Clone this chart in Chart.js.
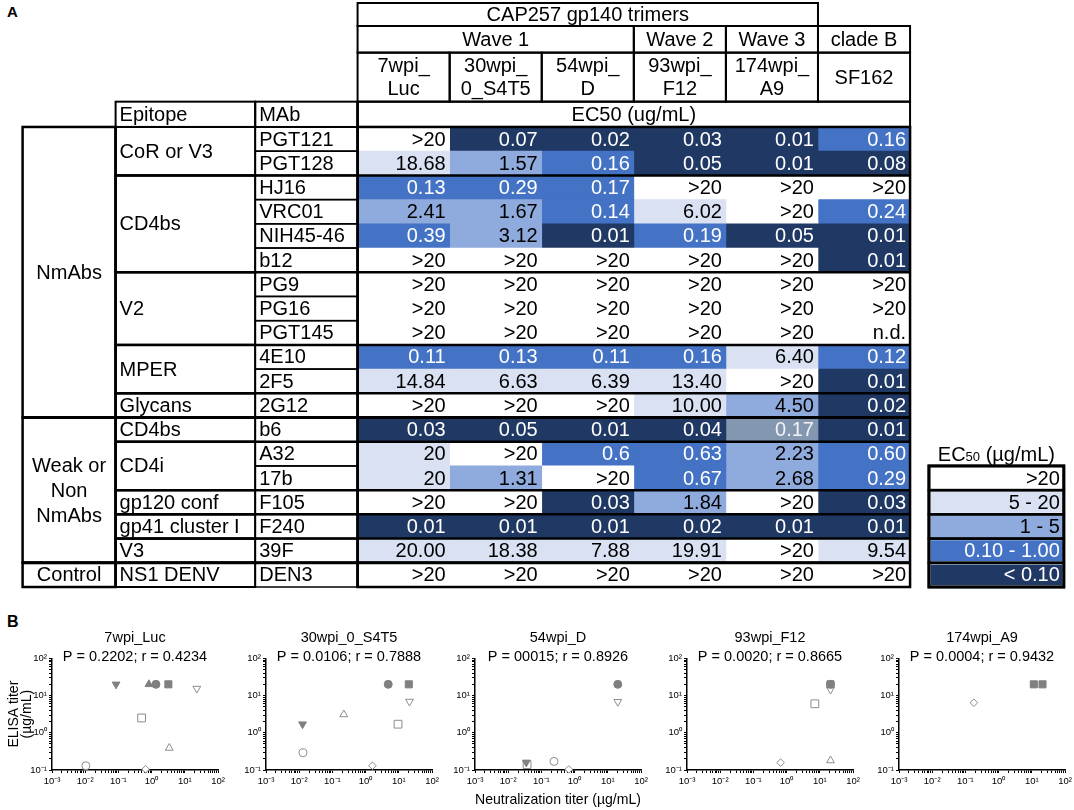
<!DOCTYPE html>
<html>
<head>
<meta charset="utf-8">
<title>CAP257 gp140 trimers - EC50 and ELISA vs neutralization</title>
<script src="https://cdn.jsdelivr.net/npm/chart.js@4.4.1/dist/chart.umd.min.js"></script>
<style>
  html, body { margin: 0; padding: 0; background: #fff; }
  body { width: 1074px; height: 810px; position: relative; overflow: hidden;
         font-family: "Liberation Sans", Arial, Helvetica, sans-serif; }
  canvas { position: absolute; }
  .panel-label { position: absolute; font-weight: bold; line-height: 1; }
</style>
</head>
<body>
<div class="panel-label" style="left:7px;top:4px;font-size:15px">A</div>
<div class="panel-label" style="left:7px;top:614px;font-size:16px">B</div>
<canvas id="table" width="1074" height="600" style="left:0;top:0"></canvas>

<script>
// ---------- panel A: EC50 table ----------
const strainTop    = ['7wpi_', '30wpi_', '54wpi_', '93wpi_', '174wpi_', 'SF162'];
const strainBottom = ['Luc', '0_S4T5', 'D', 'F12', 'A9', ''];
const waves     = ['Wave 1', 'Wave 2', 'Wave 3', 'clade B'];
const waveSpans = [3, 1, 1, 1];

const mabs = ['PGT121', 'PGT128', 'HJ16', 'VRC01', 'NIH45-46', 'b12', 'PG9', 'PG16', 'PGT145',
              '4E10', '2F5', '2G12', 'b6', 'A32', '17b', 'F105', 'F240', '39F', 'DEN3'];
const epitopes = ['CoR or V3', 'CD4bs', 'V2', 'MPER', 'Glycans', 'CD4bs', 'CD4i',
                  'gp120 conf', 'gp41 cluster I', 'V3', 'NS1 DENV'];
const epitopeSpans = [2, 4, 3, 2, 1, 1, 2, 1, 1, 1, 1];
const groups = [['NmAbs'], ['Weak or', 'Non', 'NmAbs'], ['Control']];
const groupSpans = [12, 6, 1];

const ec50_7wpi_Luc  = ['>20', '18.68', '0.13', '2.41', '0.39', '>20', '>20', '>20', '>20', '0.11', '14.84', '>20', '0.03', '20', '20', '>20', '0.01', '20.00', '>20'];
const ec50_30wpi     = ['0.07', '1.57', '0.29', '1.67', '3.12', '>20', '>20', '>20', '>20', '0.13', '6.63', '>20', '0.05', '>20', '1.31', '>20', '0.01', '18.38', '>20'];
const ec50_54wpi_D   = ['0.02', '0.16', '0.17', '0.14', '0.01', '>20', '>20', '>20', '>20', '0.11', '6.39', '>20', '0.01', '0.6', '>20', '0.03', '0.01', '7.88', '>20'];
const ec50_93wpi_F12 = ['0.03', '0.05', '>20', '6.02', '0.19', '>20', '>20', '>20', '>20', '0.16', '13.40', '10.00', '0.04', '0.63', '0.67', '1.84', '0.02', '19.91', '>20'];
const ec50_174wpi_A9 = ['0.01', '0.01', '>20', '>20', '0.05', '>20', '>20', '>20', '>20', '6.40', '>20', '4.50', '0.17', '2.23', '2.68', '>20', '0.01', '>20', '>20'];
const ec50_SF162     = ['0.16', '0.08', '>20', '0.24', '0.01', '0.01', '>20', '>20', 'n.d.', '0.12', '0.01', '0.02', '0.01', '0.60', '0.29', '0.03', '0.01', '9.54', '>20'];
const ec50Columns = [ec50_7wpi_Luc, ec50_30wpi, ec50_54wpi_D, ec50_93wpi_F12, ec50_174wpi_A9, ec50_SF162];

const legendLabels = ['>20', '5 - 20', '1 - 5', '0.10 - 1.00', '< 0.10'];

// ---------- panel B: ELISA titer vs neutralization titer ----------
const luc_x    = [0.085, 0.83, 1.35, 3.2, 23, 0.5, 3.4, 0.0105, 0.66];
const luc_y    = [20, 20, 20, 20, 15.4, 2.5, 0.39, 0.13, 0.105];
const luc_kind = ['fdown', 'fup', 'fcircle', 'fsquare', 'odown', 'osquare', 'oup', 'ocircle', 'odiamond'];

const s4t5_x    = [4.8, 20, 21, 0.22, 0.0126, 9.5, 0.013, 1.6];
const s4t5_y    = [20, 20, 6.9, 3.1, 1.7, 1.7, 0.29, 0.13];
const s4t5_kind = ['fcircle', 'fsquare', 'odown', 'oup', 'fdown', 'osquare', 'ocircle', 'odiamond'];

const d_x    = [20, 20, 0.035, 0.037, 0.24, 0.67];
const d_y    = [20, 6.8, 0.16, 0.14, 0.17, 0.104];
const d_kind = ['fcircle', 'odown', 'fdown', 'osquare', 'ocircle', 'odiamond'];

const f12_x    = [21, 21, 21, 7.1, 0.66, 21];
const f12_y    = [20, 20, 14.5, 6.0, 0.158, 0.18];
const f12_kind = ['fsquare', 'fcircle', 'odown', 'osquare', 'odiamond', 'oup'];

const a9_x    = [0.18, 11.5, 21];
const a9_y    = [6.4, 20, 20];
const a9_kind = ['odiamond', 'fsquare', 'fsquare'];

const panelNames = ['7wpi_Luc', '30wpi_0_S4T5', '54wpi_D', '93wpi_F12', '174wpi_A9'];
const panelStats = ['P = 0.2202; r = 0.4234', 'P = 0.0106; r = 0.7888', 'P = 00015; r = 0.8926',
                    'P = 0.0020; r = 0.8665', 'P = 0.0004; r = 0.9432'];
const panelX = [luc_x, s4t5_x, d_x, f12_x, a9_x];
const panelY = [luc_y, s4t5_y, d_y, f12_y, a9_y];
const panelKind = [luc_kind, s4t5_kind, d_kind, f12_kind, a9_kind];

// ---------- styling ----------
const FONT = '"Liberation Sans", Arial, Helvetica, sans-serif';
Chart.defaults.font.family = FONT;
Chart.defaults.color = '#000';
Chart.defaults.animation = false;

const binColors = ['#ffffff', '#d9e1f2', '#8faadc', '#4472c4', '#203864'];
const binText   = ['#000', '#000', '#000', '#fff', '#fff'];
const greyedCells = [[4, 12]];          // column, row drawn in grey in the original
const GREYED = '#8497b0';

function binOf(v) {
  const n = parseFloat(v);
  if (isNaN(n) || v.indexOf('>') === 0) return 0;
  if (n >= 5) return 1;
  if (n >= 1) return 2;
  if (n >= 0.1) return 3;
  return 4;
}
function isGreyed(c, r) { return greyedCells.some(g => g[0] === c && g[1] === r); }
function cellColor(c, r, v) { return isGreyed(c, r) ? GREYED : binColors[binOf(v)]; }
function cellText(c, r, v) { return isGreyed(c, r) ? '#f2f2f2' : binText[binOf(v)]; }

// layout of the table, in value-column units (x) and row units (y)
const leftEdges = [-3.638, -2.628, -1.112, 0];
const hdr = [-5.12, -4.17, -3.07, -1.045, 0];
const legendX = [6.205, 7.67];
const legendRow = 14;

const tableFrame = {
  id: 'tableFrame',
  afterDatasetsDraw(chart) {
    const {ctx, scales: {x, y}} = chart;
    const X = v => x.getPixelForValue(v);
    const Y = v => y.getPixelForValue(v);
    const nRows = mabs.length;
    ctx.save();
    ctx.strokeStyle = '#000';
    const box = (x0, y0, x1, y1, lw) => {
      ctx.lineWidth = lw;
      ctx.strokeRect(X(x0), Y(y0), X(x1) - X(x0), Y(y1) - Y(y0));
    };
    const hline = (x0, x1, yy, lw) => {
      ctx.lineWidth = lw;
      ctx.beginPath(); ctx.moveTo(X(x0), Y(yy)); ctx.lineTo(X(x1), Y(yy)); ctx.stroke();
    };
    const vline = (xx, y0, y1, lw) => {
      ctx.lineWidth = lw;
      ctx.beginPath(); ctx.moveTo(X(xx), Y(y0)); ctx.lineTo(X(xx), Y(y1)); ctx.stroke();
    };
    const text = (lines, px, py, align, color, lh) => {
      ctx.font = '20px ' + FONT;
      ctx.fillStyle = color || '#000';
      ctx.textAlign = align;
      ctx.textBaseline = 'middle';
      lh = lh || 23;
      const y0 = py - (lines.length - 1) * lh / 2;
      lines.forEach((s, i) => ctx.fillText(s, px, y0 + i * lh + 1));
    };

    // header rows
    box(0, hdr[0], 5, hdr[1], 2);
    text(['CAP257 gp140 trimers'], X(2.5), Y((hdr[0] + hdr[1]) / 2), 'center');
    let c0 = 0;
    waves.forEach((w, i) => {
      box(c0, hdr[1], c0 + waveSpans[i], hdr[2], 2);
      text([w], X(c0 + waveSpans[i] / 2), Y((hdr[1] + hdr[2]) / 2), 'center');
      c0 += waveSpans[i];
    });
    strainTop.forEach((s, c) => {
      box(c, hdr[2], c + 1, hdr[3], 2);
      const lines = strainBottom[c] ? [s, strainBottom[c]] : [s];
      text(lines, X(c + 0.5), Y((hdr[2] + hdr[3]) / 2), 'center');
    });
    box(0, hdr[3], 6, hdr[4], 2);
    text(['EC50 (ug/mL)'], X(3), Y((hdr[3] + hdr[4]) / 2), 'center');
    box(leftEdges[1], hdr[3], leftEdges[2], hdr[4], 2);
    box(leftEdges[2], hdr[3], leftEdges[3], hdr[4], 2);
    text(['Epitope'], X(leftEdges[1]) + 4, Y((hdr[3] + hdr[4]) / 2), 'left');
    text(['MAb'], X(leftEdges[2]) + 4, Y((hdr[3] + hdr[4]) / 2), 'left');

    // MAb cells and values
    mabs.forEach((m, r) => {
      box(leftEdges[2], r, leftEdges[3], r + 1, 1.5);
      text([m], X(leftEdges[2]) + 4, Y(r + 0.5), 'left');
      ec50Columns.forEach((col, c) => {
        text([col[r]], X(c + 1) - 4, Y(r + 0.5), 'right', cellText(c, r, col[r]));
      });
    });

    // epitope groups
    let r0 = 0;
    epitopes.forEach((e, i) => {
      box(leftEdges[1], r0, leftEdges[2], r0 + epitopeSpans[i], 2);
      text([e], X(leftEdges[1]) + 4, Y(r0 + epitopeSpans[i] / 2), 'left');
      if (r0 > 0) hline(leftEdges[1], 6, r0, 2.5);
      r0 += epitopeSpans[i];
    });

    // antibody classes
    r0 = 0;
    groups.forEach((g, i) => {
      box(leftEdges[0], r0, leftEdges[1], r0 + groupSpans[i], 2.5);
      text(g, X((leftEdges[0] + leftEdges[1]) / 2), Y(r0 + groupSpans[i] / 2), 'center', '#000', 25);
      if (r0 > 0) hline(leftEdges[0], 6, r0, 3);
      r0 += groupSpans[i];
    });
    box(0, 0, 6, nRows, 2.5);
    vline(leftEdges[1], 0, nRows, 2.5);
    vline(leftEdges[3], hdr[3], nRows, 2.5);

    // colour key
    legendLabels.forEach((s, i) => {
      box(legendX[0], legendRow + i, legendX[1], legendRow + i + 1, 2.5);
      text([s], X(legendX[1]) - 4, Y(legendRow + i + 0.5), 'right', binText[i]);
    });
    box(legendX[0], legendRow, legendX[1], legendRow + legendLabels.length, 3);
    const parts = [['EC', 20], ['50', 13], [' (\u00b5g/mL)', 20]];
    let total = 0;
    parts.forEach(p => { ctx.font = p[1] + 'px ' + FONT; total += ctx.measureText(p[0]).width; });
    let px = X((legendX[0] + legendX[1]) / 2) - total / 2;
    const base = Y(legendRow - 0.5) + 7;
    ctx.textAlign = 'left';
    ctx.textBaseline = 'alphabetic';
    ctx.fillStyle = '#000';
    parts.forEach(p => {
      ctx.font = p[1] + 'px ' + FONT;
      ctx.fillText(p[0], px, base);
      px += ctx.measureText(p[0]).width;
    });
    ctx.restore();
  }
};

const tableSets = ec50Columns.map((col, c) => ({
  data: col.map((v, r) => ({x: [c, c + 1], y: r + 0.5})),
  backgroundColor: col.map((v, r) => cellColor(c, r, v)),
  borderWidth: 0,
  grouped: false,
  barPercentage: 1,
  categoryPercentage: 1
}));
tableSets.push({
  data: legendLabels.map((s, i) => ({x: legendX, y: legendRow + i + 0.5})),
  backgroundColor: binColors,
  borderColor: '#fff',
  borderWidth: 2,
  borderSkipped: false,
  grouped: false,
  barPercentage: 1,
  categoryPercentage: 1
});

new Chart(document.getElementById('table'), {
  type: 'bar',
  data: {datasets: tableSets},
  options: {
    indexAxis: 'y',
    responsive: false,
    animation: false,
    layout: {padding: {left: 22.6, right: 2.8, top: 3, bottom: 13}},
    scales: {
      x: {type: 'linear', min: leftEdges[0], max: 7.75, display: false, beginAtZero: false},
      y: {type: 'linear', min: hdr[0], max: mabs.length, reverse: true, display: false, offset: false,
          ticks: {stepSize: 1, includeBounds: false}}
    },
    plugins: {legend: {display: false}, tooltip: {enabled: false}}
  },
  plugins: [tableFrame]
});

// ---------- scatter panels ----------
const GREY = '#808080', OPEN = '#8c8c8c';
const markers = {
  fcircle:  {pointStyle: 'circle',   radius: 4,   rot: 0,   fill: GREY},
  fsquare:  {pointStyle: 'rect',     radius: 5,   rot: 0,   fill: GREY},
  fup:      {pointStyle: 'triangle', radius: 4.5, rot: 0,   fill: GREY},
  fdown:    {pointStyle: 'triangle', radius: 4.5, rot: 180, fill: GREY},
  ocircle:  {pointStyle: 'circle',   radius: 4,   rot: 0,   fill: '#fff'},
  osquare:  {pointStyle: 'rect',     radius: 5.5, rot: 0,   fill: '#fff'},
  oup:      {pointStyle: 'triangle', radius: 4.5, rot: 0,   fill: '#fff'},
  odown:    {pointStyle: 'triangle', radius: 4.5, rot: 180, fill: '#fff'},
  odiamond: {pointStyle: 'rectRot',  radius: 3.8, rot: 0,   fill: '#fff'}
};
const SUP = {'-': '\u207b', '0': '\u2070', '1': '\u00b9', '2': '\u00b2', '3': '\u00b3'};
function decadeLabel(v) {
  const e = Math.log10(v);
  if (Math.abs(e - Math.round(e)) > 1e-6) return '';
  return '10' + String(Math.round(e)).split('').map(ch => SUP[ch]).join('');
}
function logTicks(lo, hi) {
  const t = [];
  for (let e = lo; e < hi; e++) for (let k = 1; k < 10; k++) t.push({value: k * Math.pow(10, e)});
  t.push({value: Math.pow(10, hi)});
  return t;
}

const plotLeft = [52, 266, 475, 687, 899];
const plotWidth = 166;
const padRight = 8;
const canvasTop = 627, canvasHeight = 183, xAxisHeight = 40;

panelNames.forEach((name, p) => {
  const yW = p === 0 ? 52 : 30;
  const cv = document.createElement('canvas');
  cv.width = yW + plotWidth + padRight;
  cv.height = canvasHeight;
  cv.style.left = (plotLeft[p] - yW) + 'px';
  cv.style.top = canvasTop + 'px';
  document.body.appendChild(cv);

  const kinds = [...new Set(panelKind[p])];
  const datasets = kinds.map(k => {
    const m = markers[k];
    return {
      data: panelX[p].map((xv, i) => ({x: xv, y: panelY[p][i], k: panelKind[p][i]}))
                     .filter(d => d.k === k),
      pointStyle: m.pointStyle,
      pointRadius: m.radius,
      pointRotation: m.rot,
      backgroundColor: m.fill,
      borderColor: m.fill === '#fff' ? OPEN : GREY,
      borderWidth: 1,
      clip: false
    };
  });

  new Chart(cv, {
    type: 'scatter',
    data: {datasets},
    options: {
      responsive: false,
      animation: false,
      layout: {padding: {right: padRight, left: 0, top: 0, bottom: 0}},
      scales: {
        x: {
          type: 'logarithmic', min: 0.001, max: 100,
          afterBuildTicks: s => { s.ticks = logTicks(-3, 2); },
          afterFit: s => { s.height = xAxisHeight; s.paddingLeft = 0; s.paddingRight = 0; },
          grid: {drawOnChartArea: false, drawTicks: true, tickLength: 3, color: '#000', tickWidth: 1},
          border: {color: '#000', width: 1.5},
          ticks: {autoSkip: false, maxRotation: 0, minRotation: 0, padding: 3,
                  font: {size: 9.5}, color: '#000', callback: v => decadeLabel(v)},
          title: {display: p === 2, text: 'Neutralization titer (\u00b5g/mL)',
                  font: {size: 14.5}, color: '#000', padding: {top: 0, bottom: 1}}
        },
        y: {
          type: 'logarithmic', min: 0.1, max: 100,
          afterBuildTicks: s => { s.ticks = logTicks(-1, 2); },
          afterFit: s => { s.width = yW; s.paddingTop = 0; s.paddingBottom = 0; },
          grid: {drawOnChartArea: false, drawTicks: true, tickLength: 3, color: '#000', tickWidth: 1},
          border: {color: '#000', width: 1.5},
          ticks: {autoSkip: false, padding: 2, font: {size: 9.5}, color: '#000',
                  callback: v => decadeLabel(v)},
          title: {display: p === 0, text: ['ELISA titer', '(\u00b5g/mL)'],
                  font: {size: 14, lineHeight: 0.9}, color: '#000', padding: {top: 8, bottom: 0}}
        }
      },
      plugins: {
        legend: {display: false},
        tooltip: {enabled: false},
        title: {
          display: true, fullSize: false,
          text: [name, panelStats[p]],
          font: {size: 14.5, weight: 'normal', lineHeight: 1.3},
          color: '#000',
          padding: {top: 2, bottom: -8.4}
        }
      }
    }
  });
});
</script>
</body>
</html>
